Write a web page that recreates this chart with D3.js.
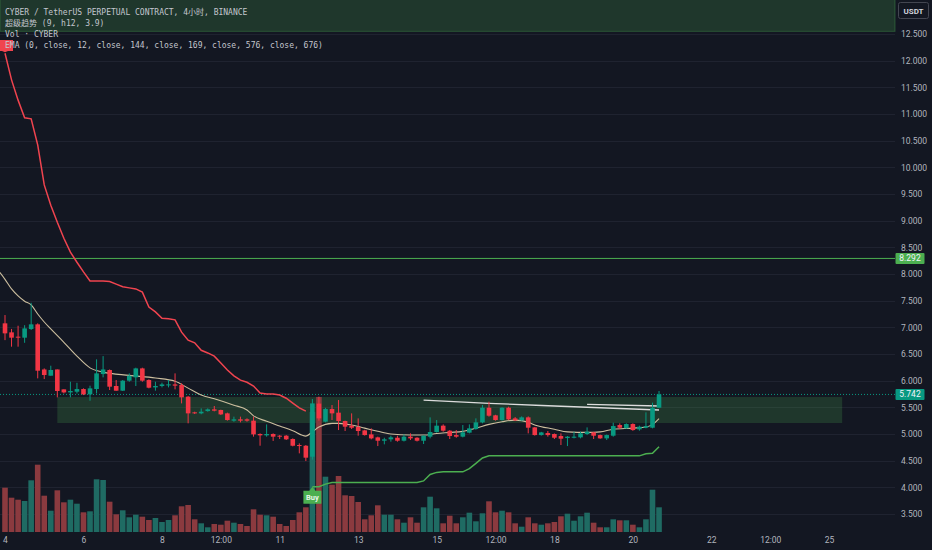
<!DOCTYPE html>
<html>
<head>
<meta charset="utf-8">
<script src="https://cdn.jsdelivr.net/npm/d3@7"></script>
<style>
  body { margin: 0; background: #131722; overflow: hidden; }
  svg { display: block; }
</style>
</head>
<body>
<div id="chart"></div>
<script>
// 1: Data (4h candles, index 0 = Aug 4 00:00)
var opens  = [7.075,6.906,6.825,6.806,6.968,7.056,6.21,6.093,6.21,5.837,5.78,5.793,5.843,5.743,5.843,6.124,6.2,5.9,5.812,6.0,
              6.062,6.23,6.012,5.874,5.9,5.912,5.93,5.918,5.7,5.406,5.387,5.43,5.462,5.45,5.387,5.25,5.275,5.275,5.25,5.0,
              4.975,5.0,4.968,4.968,4.906,4.793,4.78,4.574,5.57,5.231,5.468,5.4,5.243,5.156,5.131,5.068,4.993,4.937,4.874,4.9,
              4.93,4.874,4.95,4.93,4.874,4.95,5.037,5.156,5.062,4.98,4.95,5.025,5.093,5.218,5.493,5.35,5.262,5.493,5.293,5.256,
              5.312,5.124,4.98,5.018,5.0,4.962,4.924,4.93,4.937,5.0,5.031,4.98,4.918,4.968,5.168,5.106,5.187,5.087,5.118,5.118,5.493];
var highs  = [7.23,6.97,7.03,7.04,7.46,7.075,6.23,6.28,6.21,5.837,5.98,5.96,5.856,5.906,6.4,6.46,6.21,6.012,6.012,6.137,
              6.243,6.243,6.025,5.98,5.962,6.012,6.137,5.95,5.71,5.418,5.48,5.48,5.525,5.456,5.4,5.325,5.325,5.293,5.325,5.012,
              5.18,5.012,4.98,4.98,4.918,4.824,4.793,5.656,5.70,5.49,5.543,5.637,5.25,5.387,5.293,5.08,5.106,4.95,4.93,4.968,
              4.968,4.993,5.012,4.94,4.975,5.312,5.262,5.18,5.074,5.074,5.168,5.18,5.293,5.543,5.606,5.36,5.5,5.512,5.318,5.33,
              5.33,5.13,5.04,5.056,5.01,5.012,4.962,5.043,5.043,5.124,5.04,4.99,4.99,5.212,5.2,5.2,5.2,5.156,5.406,5.587,5.806];
var lows   = [6.76,6.637,6.637,6.71,6.95,6.043,6.03,6.093,5.687,5.76,5.687,5.76,5.73,5.624,5.76,6.062,5.825,5.81,5.806,5.98,
              5.9,5.98,5.856,5.812,5.874,5.874,5.837,5.574,5.2,5.375,5.37,5.418,5.425,5.356,5.25,5.23,5.218,5.231,4.95,4.78,
              4.95,4.87,4.906,4.887,4.768,4.637,4.493,4.52,5.25,5.22,5.262,5.074,5.056,5.093,4.968,4.97,4.9,4.774,4.806,4.856,
              4.856,4.86,4.887,4.86,4.812,4.918,5.025,5.043,4.906,4.93,4.937,5.012,5.08,5.2,5.325,5.25,5.25,5.26,5.243,5.25,
              5.012,4.97,4.97,4.95,4.906,4.793,4.774,4.918,4.918,4.98,4.906,4.91,4.887,4.95,5.093,5.1,5.06,5.062,5.106,5.106,5.49];
var closes = [6.887,6.806,6.806,6.98,7.056,6.187,6.106,6.2,5.806,5.78,5.806,5.843,5.743,5.856,6.137,6.21,5.887,5.812,6.0,6.093,
              6.23,6.0,5.868,5.9,5.93,5.93,5.906,5.687,5.387,5.387,5.418,5.462,5.437,5.368,5.262,5.275,5.25,5.25,4.993,4.975,
              5.0,4.95,4.95,4.9,4.78,4.78,4.556,5.574,5.293,5.468,5.387,5.243,5.137,5.118,5.056,4.98,4.918,4.874,4.9,4.937,
              4.874,4.95,4.918,4.874,4.968,5.037,5.156,5.062,4.962,4.95,5.031,5.106,5.218,5.493,5.343,5.262,5.493,5.274,5.256,5.312,
              5.118,4.98,5.03,4.98,4.93,4.912,4.95,4.95,5.012,5.043,4.968,4.918,4.98,5.149,5.118,5.187,5.074,5.137,5.149,5.493,5.743];
var volumes = [443,343,323,310,517,673,363,213,417,297,323,283,197,207,527,520,303,177,217,147,
               173,153,120,140,100,120,167,257,270,127,87,47,80,73,113,93,80,60,227,173,
               167,153,80,60,120,197,247,1200,1350,553,473,560,367,360,300,127,167,267,173,173,
               127,93,147,93,247,353,237,87,163,87,147,193,107,187,307,197,213,197,87,53,
               147,87,73,87,100,157,183,113,157,193,93,47,47,127,117,117,73,47,127,423,247];

// supertrend (9, h12, 3.9): red while down (index 0..46), green after the Buy signal (index 47..)
var trendDown = [12.14,11.64,11.26,10.93,10.91,10.42,9.67,9.29,8.97,8.67,8.41,8.22,8.04,7.87,7.87,7.87,7.86,7.81,7.76,7.74,
                 7.72,7.66,7.38,7.29,7.17,7.16,7.14,6.91,6.76,6.71,6.57,6.52,6.46,6.33,6.2,6.09,6.01,5.97,5.9,5.77,
                 5.75,5.75,5.73,5.67,5.58,5.49,5.43];
var trendUpStart = 47;
var trendUp = [4.01,4.01,4.06,4.09,4.09,4.09,4.09,4.09,4.09,4.09,4.09,4.09,4.09,4.09,4.09,4.09,4.09,4.12,4.24,4.28,
               4.29,4.29,4.29,4.29,4.35,4.45,4.55,4.59,4.59,4.59,4.59,4.59,4.59,4.59,4.59,4.59,4.59,4.59,4.59,4.59,
               4.59,4.59,4.59,4.59,4.59,4.59,4.59,4.59,4.59,4.59,4.59,4.63,4.64,4.76];

// EMA lines as [index, value]
var ema12 = [[-0.8,8.03],[0,7.90],[1,7.72],[2,7.59],[3,7.49],[4,7.42],[5,7.25],[6,7.10],[7,6.97],[9,6.72],[11,6.46],[13,6.24],[15,6.16],
             [19,6.10],[23,6.05],[26,5.99],[28,5.86],[30,5.73],[32,5.66],[35,5.54],[37,5.45],[38,5.34],[40,5.24],[42,5.15],
             [44,5.06],[46,4.96],[47,5.04],[48,5.13],[50,5.20],[51,5.20],[53,5.17],[55,5.11],[57,5.05],[59,5.00],[62,4.98],
             [64,4.98],[66,5.01],[68,5.03],[70,5.05],[72,5.11],[74,5.18],[76,5.23],[78,5.26],[80,5.22],[81,5.17],[84,5.09],
             [86,5.04],[89,5.03],[91,5.04],[93,5.09],[96,5.11],[98,5.13],[99,5.18],[100,5.29]];
var ema144 = [[64,5.637],[74,5.575],[85,5.52],[100,5.45]];
var ema169 = [[89,5.557],[100,5.525]];

// levels and zones
var lastPrice = 5.742;
var resistance = 8.292;
var topZone = [12.55, 13.2];
var midZone = [5.206, 5.693];
var midZoneIdx = [8, 128];

// axis ticks
var priceTicks = [3.5,4,4.5,5,5.5,6,6.5,7,7.5,8,8.5,9,9.5,10,10.5,11,11.5,12,12.5];
var timeTicks  = [0,12,24,33,42,54,66,75,84,96,108,117,126];
var timeLabels = ["4","6","8","12:00","11","13","15","12:00","18","20","22","12:00","25"];

var legendLines = ["CYBER / TetherUS PERPETUAL CONTRACT, 4小时, BINANCE",
                   "超级趋势 (9, h12, 3.9)",
                   "Vol · CYBER",
                   "EMA (0, close, 12, close, 144, close, 169, close, 576, close, 676)"];

// 2: Dimensions
var width = 932, height = 550;
var plotRight = 895, volBase = 532;
var upColor = "#089981", downColor = "#f23645";

var svg = d3.select("#chart").append("svg")
    .attr("width", width)
    .attr("height", height);

svg.append("rect").attr("width", width).attr("height", height).attr("fill", "#131722");

// 3: Scales
var x = d3.scaleLinear()
    .domain([-0.765, 136.08])
    .range([0, plotRight]);
var y = d3.scaleLinear()
    .domain([12.5, 3.5])
    .range([34, 514]);
var yVol = d3.scaleLinear()
    .domain([0, 1350])
    .range([volBase, volBase - 135]);

var plot = svg.append("g");

// grid
plot.append("g").selectAll("line")
  .data(priceTicks).enter().append("line")
    .attr("x1", 0).attr("x2", plotRight)
    .attr("y1", function(d){ return Math.round(y(d)) + 0.5; })
    .attr("y2", function(d){ return Math.round(y(d)) + 0.5; })
    .attr("stroke", "#1f2330");

// zones
plot.append("rect")
    .attr("x", 0).attr("y", y(topZone[1]))
    .attr("width", plotRight).attr("height", y(topZone[0]) - y(topZone[1]))
    .attr("fill", "rgba(76,175,80,0.22)")
    .attr("stroke", "rgba(76,175,80,0.35)");
plot.append("rect")
    .attr("x", x(midZoneIdx[0])).attr("y", y(midZone[1]))
    .attr("width", x(midZoneIdx[1]) - x(midZoneIdx[0]))
    .attr("height", y(midZone[0]) - y(midZone[1]))
    .attr("fill", "rgba(76,175,80,0.22)");

// volume
var idx = d3.range(opens.length);
plot.append("g").selectAll("rect")
  .data(idx).enter().append("rect")
    .attr("x", function(i){ return x(i) - 2.8; })
    .attr("width", 5.6)
    .attr("y", function(i){ return yVol(volumes[i]); })
    .attr("height", function(i){ return volBase - yVol(volumes[i]); })
    .attr("fill", function(i){ return closes[i] >= opens[i] ? "#1f6b63" : "#8b3a3f"; });

// resistance and last price lines
plot.append("line")
    .attr("x1", 0).attr("x2", plotRight)
    .attr("y1", y(resistance)).attr("y2", y(resistance))
    .attr("stroke", "#4caf50").attr("stroke-width", 1);
plot.append("line")
    .attr("x1", 0).attr("x2", plotRight)
    .attr("y1", y(lastPrice)).attr("y2", y(lastPrice))
    .attr("stroke", upColor).attr("stroke-width", 1)
    .attr("stroke-dasharray", "1,2");

// EMA lines
var emaLine = d3.line()
    .x(function(d){ return x(d[0]); })
    .y(function(d){ return y(d[1]); })
    .curve(d3.curveMonotoneX);
plot.append("path").datum(ema12)
    .attr("d", emaLine).attr("fill", "none")
    .attr("stroke", "#cdbf9f").attr("stroke-width", 1.1);
plot.append("path").datum(ema144)
    .attr("d", emaLine).attr("fill", "none")
    .attr("stroke", "#dcdcdc").attr("stroke-width", 1.3);
plot.append("path").datum(ema169)
    .attr("d", emaLine).attr("fill", "none")
    .attr("stroke", "#dcdcdc").attr("stroke-width", 1.3);

// supertrend
var stLine = d3.line()
    .x(function(d){ return x(d[0]); })
    .y(function(d){ return y(d[1]); });
plot.append("path")
    .datum(trendDown.map(function(v, i){ return [i, v]; }))
    .attr("d", stLine).attr("fill", "none")
    .attr("stroke", "#f0444f").attr("stroke-width", 1.5);
plot.append("path")
    .datum(trendUp.map(function(v, i){ return [i + trendUpStart, v]; }))
    .attr("d", stLine).attr("fill", "none")
    .attr("stroke", "#4caf50").attr("stroke-width", 1.5);

// candles
var candles = plot.append("g");
idx.forEach(function(i){
  var col = closes[i] >= opens[i] ? upColor : downColor;
  candles.append("line")
      .attr("x1", x(i)).attr("x2", x(i))
      .attr("y1", y(highs[i])).attr("y2", y(lows[i]))
      .attr("stroke", col).attr("stroke-width", 1);
  var top = y(Math.max(opens[i], closes[i])),
      bot = y(Math.min(opens[i], closes[i]));
  candles.append("rect")
      .attr("x", x(i) - 2.3).attr("width", 4.6)
      .attr("y", top).attr("height", Math.max(1, bot - top))
      .attr("fill", col);
});

// Sell marker (label body cut off at the left edge) and Buy label
var sx = x(0), sy = y(trendDown[0]);
plot.append("path")
    .attr("d", "M0,40 H13 V51 H" + (sx + 3) + " L" + sx + "," + (sy - 1) + " L" + (sx - 3) + ",51 H0 Z")
    .attr("fill", "#f0444f");

var bx = x(trendUpStart), by = y(trendUp[0]);
plot.append("path")
    .attr("d", "M" + (bx - 9) + "," + (by + 4) + " H" + (bx - 3) + " L" + bx + "," + by + " L" + (bx + 3) + "," + (by + 4) +
               " H" + (bx + 9) + " V" + (by + 17) + " H" + (bx - 9) + " Z")
    .attr("fill", "#4caf50");
plot.append("text")
    .attr("x", bx).attr("y", by + 13.5)
    .attr("text-anchor", "middle")
    .attr("font-family", "Roboto, sans-serif").attr("font-size", 7.5)
    .attr("font-weight", "bold").attr("fill", "#e8f5e9")
    .text("Buy");

// legend
svg.append("g").selectAll("text")
  .data(legendLines).enter().append("text")
    .attr("x", 5)
    .attr("y", function(d, i){ return 15 + i * 11; })
    .attr("font-family", "'DejaVu Sans Mono', 'Noto Sans CJK SC', monospace")
    .attr("font-size", 8)
    .attr("fill", "#c3c6ce")
    .text(function(d){ return d; });

// 4: Axes
var yAxis = d3.axisRight(y)
    .tickValues(priceTicks)
    .tickFormat(d3.format(".3f"))
    .tickSize(0)
    .tickPadding(0);
var gy = svg.append("g")
    .attr("transform", "translate(901,0)")
    .call(yAxis);
gy.select(".domain").remove();
gy.selectAll("text")
    .attr("fill", "#b2b5be")
    .attr("font-family", "Roboto, sans-serif")
    .attr("font-size", 8.5);

var xAxis = d3.axisBottom(x)
    .tickValues(timeTicks)
    .tickFormat(function(d, i){ return timeLabels[i]; })
    .tickSize(0)
    .tickPadding(0);
var gx = svg.append("g")
    .attr("transform", "translate(0,537)")
    .call(xAxis);
gx.select(".domain").remove();
gx.selectAll("text")
    .attr("fill", "#b2b5be")
    .attr("font-family", "Roboto, sans-serif")
    .attr("font-size", 8.5);

// price tags on the axis
function priceTag(v, col) {
  svg.append("rect")
      .attr("x", 895.5).attr("y", y(v) - 5.5)
      .attr("width", 29).attr("height", 11).attr("rx", 1)
      .attr("fill", col);
  svg.append("text")
      .attr("x", 910).attr("y", y(v) + 3)
      .attr("text-anchor", "middle")
      .attr("font-family", "Roboto, sans-serif").attr("font-size", 8.5)
      .attr("fill", "#f0f3fa")
      .text(d3.format(".3f")(v));
}
priceTag(resistance, "#4caf50");
priceTag(lastPrice, upColor);

// USDT button
svg.append("rect")
    .attr("x", 898.5).attr("y", 2.5).attr("width", 30).attr("height", 16).attr("rx", 2)
    .attr("fill", "#131722").attr("stroke", "#434651");
svg.append("text")
    .attr("x", 913.5).attr("y", 13.5)
    .attr("text-anchor", "middle")
    .attr("font-family", "Roboto, sans-serif").attr("font-size", 8)
    .attr("font-weight", "bold").attr("fill", "#d1d4dc")
    .text("USDT");
</script>
</body>
</html>
